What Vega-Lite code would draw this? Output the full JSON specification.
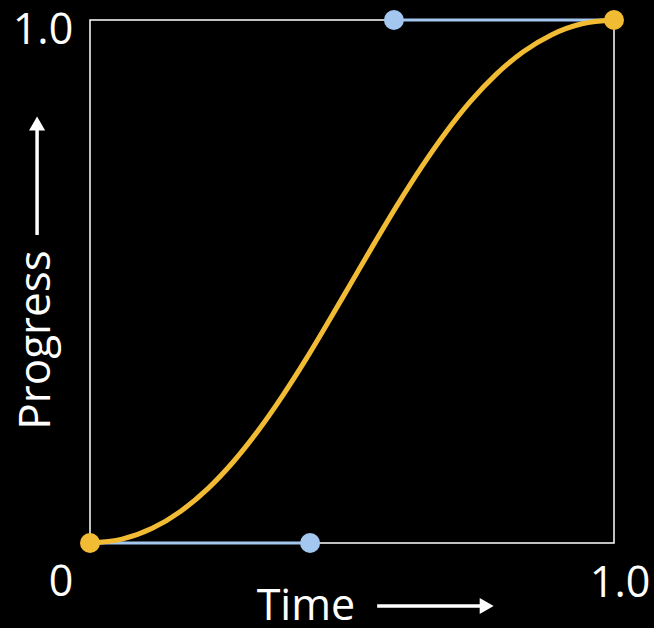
{
  "$schema": "https://vega.github.io/schema/vega-lite/v6.json",
  "width": 524,
  "height": 523,
  "autosize": "none",
  "padding": {"left": 90, "top": 20, "right": 40, "bottom": 85},
  "background": "black",
  "config": {"view": {"stroke": "white", "strokeWidth": 1.5}},
  "datasets": {
    "curve": [
      {"t": 0, "x": 0, "y": 0},
      {"t": 1, "x": 0.0611, "y": 0.0073},
      {"t": 2, "x": 0.1187, "y": 0.028},
      {"t": 3, "x": 0.1732, "y": 0.0608},
      {"t": 4, "x": 0.225, "y": 0.104},
      {"t": 5, "x": 0.2744, "y": 0.1563},
      {"t": 6, "x": 0.3218, "y": 0.216},
      {"t": 7, "x": 0.3677, "y": 0.2818},
      {"t": 8, "x": 0.4125, "y": 0.352},
      {"t": 9, "x": 0.4564, "y": 0.4253},
      {"t": 10, "x": 0.5, "y": 0.5},
      {"t": 11, "x": 0.5436, "y": 0.5748},
      {"t": 12, "x": 0.5875, "y": 0.648},
      {"t": 13, "x": 0.6323, "y": 0.7183},
      {"t": 14, "x": 0.6782, "y": 0.784},
      {"t": 15, "x": 0.7256, "y": 0.8438},
      {"t": 16, "x": 0.775, "y": 0.896},
      {"t": 17, "x": 0.8268, "y": 0.9393},
      {"t": 18, "x": 0.8813, "y": 0.972},
      {"t": 19, "x": 0.9389, "y": 0.9928},
      {"t": 20, "x": 1, "y": 1}
    ],
    "handles": [
      {"g": "a", "x": 0, "y": 0, "kind": "anchor"},
      {"g": "a", "x": 0.42, "y": 0, "kind": "control"},
      {"g": "b", "x": 0.58, "y": 1, "kind": "control"},
      {"g": "b", "x": 1, "y": 1, "kind": "anchor"}
    ],
    "labels": [
      {"x": -0.0897, "y": 0.954, "text": "1.0"},
      {"x": -0.0553, "y": -0.1013, "text": "0"},
      {"x": 1.0115, "y": -0.103, "text": "1.0"},
      {"x": 0.412, "y": -0.147, "text": "Time"}
    ],
    "arrows": [
      {"a": "h", "x": 0.548, "y": -0.1205},
      {"a": "h", "x": 0.745, "y": -0.1205},
      {"a": "v", "x": -0.101, "y": 0.589},
      {"a": "v", "x": -0.101, "y": 0.79}
    ],
    "heads": [
      {"a": "h", "x": 0.757, "y": -0.1205, "dir": "triangle-right"},
      {"a": "v", "x": -0.101, "y": 0.802, "dir": "triangle-up"}
    ]
  },
  "encoding": {
    "x": {"field": "x", "type": "quantitative", "scale": {"domain": [0, 1], "nice": false, "zero": false}, "axis": null},
    "y": {"field": "y", "type": "quantitative", "scale": {"domain": [0, 1], "nice": false, "zero": false}, "axis": null}
  },
  "layer": [
    {
      "data": {"name": "handles"},
      "mark": {"type": "line", "color": "#a3c7ef", "strokeWidth": 3, "clip": false},
      "encoding": {"detail": {"field": "g"}}
    },
    {
      "data": {"name": "curve"},
      "mark": {"type": "line", "color": "#f2bb34", "strokeWidth": 5, "interpolate": "monotone", "clip": false},
      "encoding": {"order": {"field": "t", "type": "quantitative"}}
    },
    {
      "data": {"name": "handles"},
      "transform": [{"filter": "datum.kind == 'control'"}],
      "mark": {"type": "circle", "color": "#a3c7ef", "opacity": 1, "size": 400, "clip": false}
    },
    {
      "data": {"name": "handles"},
      "transform": [{"filter": "datum.kind == 'anchor'"}],
      "mark": {"type": "circle", "color": "#f2bb34", "opacity": 1, "size": 400, "clip": false}
    },
    {
      "data": {"name": "arrows"},
      "mark": {"type": "line", "color": "white", "strokeWidth": 3.5, "clip": false},
      "encoding": {"detail": {"field": "a"}}
    },
    {
      "data": {"name": "heads"},
      "mark": {"type": "point", "filled": true, "color": "white", "opacity": 1, "size": 260, "clip": false},
      "encoding": {"shape": {"field": "dir", "type": "nominal", "scale": {"domain": ["triangle-right", "triangle-up"], "range": ["triangle-right", "triangle-up"]}, "legend": null}}
    },
    {
      "data": {"name": "labels"},
      "mark": {"type": "text", "color": "white", "font": "Open Sans", "fontWeight": 400, "fontSize": 43, "align": "center", "baseline": "alphabetic", "clip": false},
      "encoding": {"text": {"field": "text"}}
    },
    {
      "data": {"values": [{"x": -0.076, "y": 0.388, "text": "Progress"}]},
      "mark": {"type": "text", "color": "white", "font": "Open Sans", "fontWeight": 400, "fontSize": 44, "angle": 270, "align": "center", "baseline": "alphabetic", "clip": false},
      "encoding": {"text": {"field": "text"}}
    }
  ]
}
